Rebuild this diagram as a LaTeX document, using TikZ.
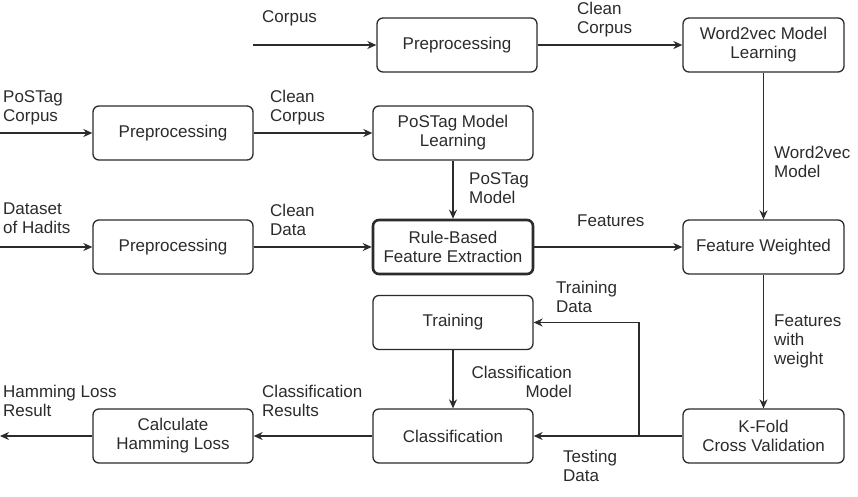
\documentclass[tikz,border=0pt]{standalone}
\usepackage{fontspec}
\setmainfont{Liberation Sans}
\usetikzlibrary{arrows.meta}
\definecolor{ink}{HTML}{2B2B2B}
\begin{document}
\begin{tikzpicture}[x=1pt,y=1pt,
  box/.style={draw=ink, line width=1.3pt, rounded corners=6pt,
    minimum width=160pt, minimum height=54pt, align=center, inner sep=2pt,
    text=ink, font=\fontsize{17}{19}\selectfont},
  keybox/.style={box, line width=2.6pt},
  lbl/.style={anchor=north west, inner sep=0pt, align=left, text=ink,
    font=\fontsize{17}{19}\selectfont},
  flow/.style={draw=ink, line width=1.3pt, -{Stealth[length=9pt,width=8pt]}},
]
\useasboundingbox (0,0) rectangle (858,-496);

% process boxes
\node[box] (pre1)  at (457,-45)    {Preprocessing};
\node[box, minimum width=161pt] (w2v) at (763.5,-45) {Word2vec Model\\Learning};
\node[box] (pre2)  at (173,-133)   {Preprocessing};
\node[box] (pos)   at (453,-133)   {PoSTag Model\\Learning};
\node[box] (pre3)  at (173,-247)   {Preprocessing};
\node[keybox] (rule) at (453,-247) {Rule-Based\\Feature Extraction};
\node[box, minimum width=161pt] (fw) at (763.5,-247) {Feature Weighted};
\node[box] (train) at (453,-322.5) {Training};
\node[box] (cls)   at (453,-436)   {Classification};
\node[box, minimum width=161pt] (kfold) at (763.5,-436) {K-Fold\\Cross Validation};
\node[box] (ham)   at (173,-436)   {Calculate\\Hamming Loss};

% free ends and branch point
\coordinate (cin)   at (253,-45);
\coordinate (pin)   at (0,-133);
\coordinate (din)   at (0,-247);
\coordinate (hout)  at (0,-436);
\coordinate (split) at (639,-436);

% connectors
\draw[flow] (cin) -- (pre1);
\draw[flow] (pre1) -- (w2v);
\draw[flow] (pin) -- (pre2);
\draw[flow] (pre2) -- (pos);
\draw[flow] (pos) -- (rule);
\draw[flow] (w2v) -- (fw);
\draw[flow] (din) -- (pre3);
\draw[flow] (pre3) -- (rule);
\draw[flow] (rule) -- (fw);
\draw[flow] (fw) -- (kfold);
\draw[flow] (kfold) -- (cls);
\draw[flow] (split) |- (train);
\draw[flow] (train) -- (cls);
\draw[flow] (cls) -- (ham);
\draw[flow] (ham) -- (hout);

% connector labels
\node[lbl] (l1)  at (262,-10.5)  {Corpus};
\node[lbl] (l2)  at (577,-1.5)   {Clean\\Corpus};
\node[lbl] (l3)  at (3,-90.5)    {PoSTag\\Corpus};
\node[lbl] (l4)  at (270,-89.5)  {Clean\\Corpus};
\node[lbl] (l5)  at (3,-202.5)   {Dataset\\of Hadits};
\node[lbl] (l6)  at (270,-203.5) {Clean\\Data};
\node[lbl] (l7)  at (469,-172.5) {PoSTag\\Model};
\node[lbl] (l8)  at (774,-145.5) {Word2vec\\Model};
\node[lbl] (l9)  at (577,-214.5) {Features};
\node[lbl] (l10) at (774,-314.5) {Features\\with\\weight};
\node[lbl] (l11) at (556,-280.5) {Training\\Data};
\node[lbl, anchor=north east, align=right] (l12) at (572,-365.5) {Classification\\Model};
\node[lbl] (l13) at (563,-449.5) {Testing\\Data};
\node[lbl] (l14) at (262,-384.5) {Classification\\Results};
\node[lbl] (l15) at (3,-384.5)   {Hamming Loss\\Result};
\end{tikzpicture}
\end{document}
